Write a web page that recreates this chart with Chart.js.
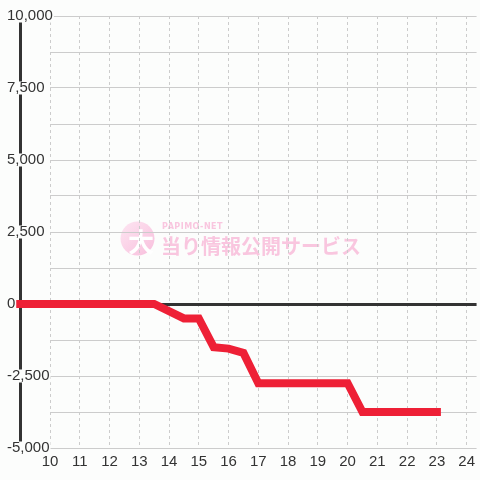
<!DOCTYPE html>
<html lang="ja">
<head>
<meta charset="utf-8">
<title>差枚グラフ</title>
<script src="https://cdn.jsdelivr.net/npm/chart.js@4.4.1/dist/chart.umd.min.js"></script>
<style>
    html, body { margin: 0; padding: 0; background: #fcfdfc; }
    #graph { display: block; }
</style>
</head>
<body>
<canvas id="graph" width="480" height="480"></canvas>
<script>
// Données : heure -> différence de billes
const hours  = [9, 13.5, 14.5, 15, 15.5, 16, 16.5, 17, 20, 20.5, 23];
const values = [0, 0, -500, -500, -1500, -1550, -1700, -2750, -2750, -3750, -3750];

// Graduations des axes
const xTicks  = [10, 11, 12, 13, 14, 15, 16, 17, 18, 19, 20, 21, 22, 23, 24];
const yLabels = [-5000, -2500, 0, 2500, 5000, 7500, 10000];
const yMin = -5000;
const yMax = 10000;
const yStep = 1250;
const xMin = 10;
const xMax = 24.333;
const xAxisAt = 9;   // position de la ligne verticale de l'axe Y

// Filigrane
const watermarkSub  = 'PAPIMO-NET';
const watermarkMain = '当り情報公開サービス';
const watermarkLogo = '大';

const BG = '#fcfdfc';
const FONT = '"Liberation Sans", Arial, sans-serif';

document.addEventListener('DOMContentLoaded', function() {
    drawGraph();
});

/**
 * Fond + filigrane, dessinés avant la grille
 */
const watermarkPlugin = {
    id: 'watermark',
    beforeDraw(chart) {
        const ctx = chart.ctx;
        ctx.save();
        ctx.fillStyle = BG;
        ctx.fillRect(0, 0, chart.width, chart.height);

        // Logo rond
        const grad = ctx.createLinearGradient(121, 221, 154, 256);
        grad.addColorStop(0, '#fde6f2');
        grad.addColorStop(1, '#f8bedc');
        ctx.fillStyle = grad;
        ctx.beginPath();
        ctx.arc(137.5, 238.5, 17, 0, Math.PI * 2);
        ctx.fill();
        ctx.fillStyle = '#ffffff';
        ctx.font = 'bold 26px "Noto Sans CJK JP"';
        ctx.textAlign = 'center';
        ctx.textBaseline = 'middle';
        ctx.fillText(watermarkLogo, 141, 242);

        // Textes
        ctx.fillStyle = '#f9c6df';
        ctx.textAlign = 'left';
        ctx.font = 'bold 20px "Noto Sans CJK JP"';
        ctx.fillText(watermarkMain, 161, 246);
        ctx.font = 'bold 8px "DejaVu Sans"';
        ctx.letterSpacing = '0.5px';
        ctx.fillText(watermarkSub, 162, 227);
        ctx.restore();
    }
};

function drawGraph() {
    const ctx = document.getElementById('graph').getContext('2d');

    new Chart(ctx, {
        type: 'line',
        data: {
            datasets: [{
                data: hours.map((h, i) => ({ x: h, y: values[i] })),
                xAxisID: 'x',
                yAxisID: 'y',
                borderColor: '#ee2036',
                borderWidth: 8,
                borderCapStyle: 'square',
                borderJoinStyle: 'miter',
                pointRadius: 0,
                tension: 0,
                fill: false,
                clip: false
            }]
        },
        options: {
            responsive: false,
            animation: false,
            devicePixelRatio: 1,
            layout: { padding: { left: 7, top: 16, right: 0, bottom: 4 } },
            plugins: {
                legend: { display: false },
                tooltip: { enabled: false }
            },
            scales: {
                // Ligne épaisse de l'axe Y (placée à x = 9)
                yLine: {
                    type: 'linear',
                    axis: 'y',
                    position: { x: xAxisAt },
                    min: yMin,
                    max: yMax,
                    z: -1,
                    ticks: { display: false },
                    grid: { display: true, drawOnChartArea: false, drawTicks: false },
                    border: { display: true, color: '#333333', width: 3 }
                },
                x: {
                    type: 'linear',
                    min: xMin,
                    max: xMax,
                    afterBuildTicks: scale => {
                        scale.ticks = xTicks.map(v => ({ value: v }));
                    },
                    grid: { color: '#cccccc', lineWidth: 1, drawTicks: false },
                    border: { display: false, dash: [3, 3] },
                    ticks: {
                        autoSkip: false,
                        maxRotation: 0,
                        padding: 5,
                        color: '#333333',
                        font: { family: FONT, size: 15 }
                    }
                },
                y: {
                    type: 'linear',
                    position: 'left',
                    min: yMin,
                    max: yMax,
                    grid: {
                        color: c => (c.tick && c.tick.value === 0) ? '#333333' : '#cccccc',
                        lineWidth: c => (c.tick && c.tick.value === 0) ? 3 : 1,
                        drawTicks: false
                    },
                    border: { display: false },
                    // Titre vide : ne sert qu'à réserver la largeur de l'axe (43px)
                    // car le padding négatif des libellés "mirror" la réduit
                    title: { display: true, text: '', padding: 0, font: { size: 10, lineHeight: '129px' } },
                    ticks: {
                        stepSize: yStep,
                        autoSkip: false,
                        mirror: true,
                        padding: -43,
                        color: '#333333',
                        font: { family: FONT, size: 15, lineHeight: '13px' },
                        showLabelBackdrop: true,
                        backdropColor: BG,
                        backdropPadding: { top: 0, bottom: 0, left: 0, right: 1 },
                        callback: v => yLabels.includes(v) ? v.toLocaleString('en-US') : ''
                    }
                }
            }
        },
        plugins: [watermarkPlugin]
    });
}
</script>
</body>
</html>
